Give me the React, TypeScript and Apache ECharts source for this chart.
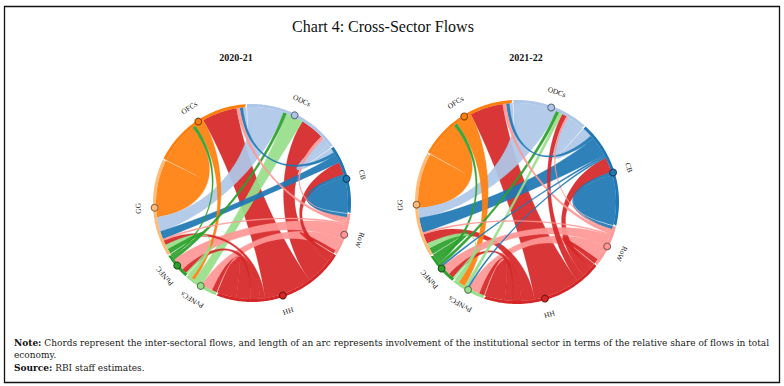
import React, { useEffect, useRef } from 'react';
import * as echarts from 'echarts';

// ---------- data ----------
const SECTORS = ['ODCs', 'CB', 'RoW', 'HH', 'PvNFCs', 'PuNFC', 'GG', 'OFCs'];
const SECTOR_COLORS = ['#aec7e8', '#1f77b4', '#ff9896', '#d62728', '#98df8a', '#2ca02c', '#ffbb78', '#ff7f0e'];

// 2020-21 : flow from sector, to sector, share of arc at each end
const FROM_2020 = ['ODCs', 'ODCs', 'PuNFC', 'PvNFCs', 'HH', 'RoW', 'ODCs', 'ODCs', 'CB', 'CB', 'HH', 'CB', 'CB', 'RoW', 'RoW', 'RoW', 'RoW', 'HH', 'HH', 'HH', 'HH', 'HH', 'HH', 'OFCs', 'PvNFCs', 'PvNFCs', 'PuNFC', 'PuNFC', 'OFCs'];
const TO_2020 = ['OFCs', 'GG', 'ODCs', 'ODCs', 'ODCs', 'ODCs', 'CB', 'ODCs', 'OFCs', 'GG', 'CB', 'RoW', 'CB', 'OFCs', 'GG', 'PuNFC', 'PvNFCs', 'RoW', 'OFCs', 'GG', 'PuNFC', 'PvNFCs', 'HH', 'PvNFCs', 'GG', 'PuNFC', 'OFCs', 'GG', 'GG'];
const SHARE_FROM_2020 = [3, 20, 2, 6, 16, 2, 5, 2, 2, 5, 4, 2, 22, 2, 1, 9, 8, 2, 30, 3, 6, 9, 12, 6, 2, 1, 1, 1, 26];
const SHARE_TO_2020 = [2, 9, 2, 11, 15, 2, 3, 2, 2, 5, 8, 2, 22, 2, 1, 8, 7, 2, 22, 3, 3, 3, 12, 2, 3, 1, 2, 3, 36];

// 2021-22
const FROM_2021 = ['ODCs', 'ODCs', 'PuNFC', 'PvNFCs', 'HH', 'RoW', 'ODCs', 'ODCs', 'CB', 'CB', 'CB', 'CB', 'HH', 'CB', 'CB', 'RoW', 'RoW', 'RoW', 'RoW', 'HH', 'HH', 'HH', 'HH', 'HH', 'HH', 'OFCs', 'PvNFCs', 'PvNFCs', 'PuNFC', 'PuNFC', 'OFCs'];
const TO_2021 = ['OFCs', 'GG', 'ODCs', 'ODCs', 'ODCs', 'ODCs', 'CB', 'ODCs', 'OFCs', 'GG', 'PuNFC', 'PvNFCs', 'CB', 'RoW', 'CB', 'OFCs', 'GG', 'PuNFC', 'PvNFCs', 'RoW', 'OFCs', 'GG', 'PuNFC', 'PvNFCs', 'HH', 'PvNFCs', 'GG', 'PuNFC', 'OFCs', 'GG', 'GG'];
const SHARE_FROM_2021 = [2, 24, 2, 2, 5, 1, 9, 2, 2, 12, 1, 1, 6, 2, 30, 2, 1, 7, 9, 3, 28, 8, 5, 5, 12, 10, 2, 1, 2, 4, 22];
const SHARE_TO_2021 = [2, 6, 2, 2, 3, 1, 6, 2, 2, 9, 1, 1, 9, 2, 30, 2, 1, 6, 7, 3, 20, 6, 3, 3, 12, 4, 3, 1, 2, 4, 33];

const YEARS = ['2020-21', '2021-22'];
const TITLE = 'Chart 4: Cross-Sector Flows';
const NOTE_LINE1 = 'Chords represent the inter-sectoral flows, and length of an arc represents involvement of the institutional sector in terms of the relative share of flows in total';
const NOTE_LINE2 = 'economy.';
const SOURCE = 'RBI staff estimates.';

// ---------- layout helpers ----------
const DEG = Math.PI / 180;
const SERIF = '"Liberation Serif", "Times New Roman", serif';
const NOTE_FONT = '"DejaVu Serif", serif';
const NOTE_SIZE = 9.0;

type Geo = { cx: number; cy: number; r: number; rOut: number; start: number; pad: number };

function buildChord(from: string[], to: string[], sf: number[], st: number[], geo: Geo) {
  const n = SECTORS.length;
  const idx = (s: string) => SECTORS.indexOf(s);
  const sub: number[][] = Array.from({ length: n }, () => new Array(n).fill(0));
  from.forEach((f, k) => {
    const i = idx(f);
    const j = idx(to[k]);
    if (i === j) sub[i][i] += sf[k];
    else {
      sub[i][j] += sf[k];
      sub[j][i] += st[k];
    }
  });
  const totals = sub.map((row) => row.reduce((a, b) => a + b, 0));
  const grand = totals.reduce((a, b) => a + b, 0);
  const scale = (2 * Math.PI - n * geo.pad * DEG) / grand;
  const arcs: number[][][] = Array.from({ length: n }, () => new Array(n).fill(null));
  const groups: { a0: number; a1: number }[] = [];
  let a = geo.start * DEG;
  for (let i = 0; i < n; i++) {
    const g0 = a;
    const order: number[] = [];
    for (let s = 1; s < n; s++) order.push((i - s + n) % n);
    order.push(i);
    order.forEach((j) => {
      const w = sub[i][j] * scale;
      arcs[i][j] = [a, a + w];
      a += w;
    });
    groups.push({ a0: g0, a1: a });
    a += geo.pad * DEG;
  }

  const P = (t: number, rad: number) => [geo.cx + rad * Math.sin(t), geo.cy - rad * Math.cos(t)];
  const K = 0.45;
  const f2 = (v: number) => v.toFixed(2);
  const arcPts = (rad: number, t0: number, t1: number) => {
    const steps = Math.max(2, Math.ceil(Math.abs(t1 - t0) / (0.8 * DEG)));
    let s = '';
    for (let q = 1; q <= steps; q++) {
      const p = P(t0 + ((t1 - t0) * q) / steps, rad);
      s += ` L ${f2(p[0])} ${f2(p[1])}`;
    }
    return s;
  };
  const curve = (t0: number, t1: number) => {
    const c1 = P(t0, geo.r * K);
    const c2 = P(t1, geo.r * K);
    const e = P(t1, geo.r);
    return ` C ${f2(c1[0])} ${f2(c1[1])} ${f2(c2[0])} ${f2(c2[1])} ${f2(e[0])} ${f2(e[1])}`;
  };

  const ribbons: { d: string; color: string; size: number }[] = [];
  from.forEach((f, k) => {
    const i = idx(f);
    const j = idx(to[k]);
    const A = arcs[i][j];
    const p0 = P(A[0], geo.r);
    let d = `M ${f2(p0[0])} ${f2(p0[1])}` + arcPts(geo.r, A[0], A[1]);
    if (i === j) {
      d += curve(A[1], A[0]) + ' Z';
    } else {
      const B = arcs[j][i];
      d += curve(A[1], B[0]) + arcPts(geo.r, B[0], B[1]) + curve(B[1], A[0]) + ' Z';
    }
    ribbons.push({ d, color: SECTOR_COLORS[i], size: sf[k] + st[k] });
  });
  ribbons.sort((x, y) => y.size - x.size);

  const groupEls = groups.map((g, i) => {
    const o0 = P(g.a0, geo.rOut);
    let d = `M ${f2(o0[0])} ${f2(o0[1])}` + arcPts(geo.rOut, g.a0, g.a1);
    d += arcPts(geo.r, g.a1, g.a0) + ' Z';
    const mid = (g.a0 + g.a1) / 2;
    const m = P(mid, geo.rOut - 1.5);
    const l = P(mid, geo.rOut + 15);
    return { d, color: SECTOR_COLORS[i], name: SECTORS[i], mx: m[0], my: m[1], lx: l[0], ly: l[1], rot: -mid };
  });
  return { ribbons, groupEls };
}

const GEOS: Geo[] = [
  { cx: 252, cy: 203, r: 96, rOut: 99, start: -3, pad: 0.5 },
  { cx: 517, cy: 202, r: 99, rOut: 102, start: -2, pad: 0.5 },
];

function darken(hex: string) {
  const v = parseInt(hex.slice(1), 16);
  const r = Math.round(((v >> 16) & 255) * 0.55);
  const g = Math.round(((v >> 8) & 255) * 0.55);
  const b = Math.round((v & 255) * 0.55);
  return `rgb(${r},${g},${b})`;
}

function chordSeries(data: ReturnType<typeof buildChord>) {
  return [
    {
      type: 'custom',
      coordinateSystem: 'none',
      silent: true,
      data: data.ribbons.map((_, i) => [i]),
      renderItem: (params: any) => {
        const rb = data.ribbons[params.dataIndex];
        return {
          type: 'path',
          shape: { pathData: rb.d },
          style: { fill: rb.color, opacity: 0.93, stroke: rb.color, lineWidth: 0.3 },
        };
      },
    },
    {
      type: 'custom',
      coordinateSystem: 'none',
      silent: true,
      data: data.groupEls.map((_, i) => [i]),
      renderItem: (params: any) => {
        const g = data.groupEls[params.dataIndex];
        return {
          type: 'group',
          children: [
            { type: 'path', shape: { pathData: g.d }, style: { fill: g.color } },
            {
              type: 'circle',
              shape: { cx: g.mx, cy: g.my, r: 3.4 },
              style: { fill: g.color, stroke: darken(g.color), lineWidth: 1.1 },
            },
            {
              type: 'text',
              x: g.lx,
              y: g.ly,
              rotation: g.rot,
              style: {
                text: g.name,
                fill: '#222',
                fontSize: 7.5,
                fontFamily: SERIF,
                align: 'center',
                verticalAlign: 'middle',
              },
            },
          ],
        };
      },
    },
  ];
}

export default function App() {
  const ref = useRef<HTMLDivElement>(null);
  useEffect(() => {
    if (!ref.current) return;
    const chart = echarts.init(ref.current, null, { renderer: 'svg' });
    const c2020 = buildChord(FROM_2020, TO_2020, SHARE_FROM_2020, SHARE_TO_2020, GEOS[0]);
    const c2021 = buildChord(FROM_2021, TO_2021, SHARE_FROM_2021, SHARE_TO_2021, GEOS[1]);
    chart.setOption({
      animation: false,
      backgroundColor: '#ffffff',
      graphic: [
        {
          type: 'rect',
          shape: { x: 4.5, y: 6.5, width: 775, height: 376 },
          style: { fill: 'none', stroke: '#111', lineWidth: 1.3 },
        },
        {
          type: 'text',
          x: 383,
          y: 26,
          style: { text: TITLE, fontSize: 16, fontFamily: SERIF, fill: '#111', align: 'center', verticalAlign: 'middle' },
        },
        {
          type: 'text',
          x: 236,
          y: 57,
          style: { text: YEARS[0], fontSize: 10, fontWeight: 'bold', fontFamily: SERIF, fill: '#111', align: 'center', verticalAlign: 'middle' },
        },
        {
          type: 'text',
          x: 526,
          y: 57,
          style: { text: YEARS[1], fontSize: 10, fontWeight: 'bold', fontFamily: SERIF, fill: '#111', align: 'center', verticalAlign: 'middle' },
        },
        {
          type: 'text',
          x: 14,
          y: 343,
          style: {
            text: `{b|Note:} ${NOTE_LINE1}`,
            fontSize: NOTE_SIZE,
            fontFamily: NOTE_FONT,
            fill: '#222',
            verticalAlign: 'middle',
            rich: { b: { fontWeight: 'bold', fontSize: NOTE_SIZE, fontFamily: NOTE_FONT, fill: '#111' } },
          },
        },
        {
          type: 'text',
          x: 14,
          y: 355,
          style: { text: NOTE_LINE2, fontSize: NOTE_SIZE, fontFamily: NOTE_FONT, fill: '#222', verticalAlign: 'middle' },
        },
        {
          type: 'text',
          x: 14,
          y: 368,
          style: {
            text: `{b|Source:} ${SOURCE}`,
            fontSize: NOTE_SIZE,
            fontFamily: NOTE_FONT,
            fill: '#222',
            verticalAlign: 'middle',
            rich: { b: { fontWeight: 'bold', fontSize: NOTE_SIZE, fontFamily: NOTE_FONT, fill: '#111' } },
          },
        },
      ],
      series: [...chordSeries(c2020), ...chordSeries(c2021)],
    });
    return () => chart.dispose();
  }, []);
  return <div ref={ref} style={{ position: 'absolute', left: 0, top: 0, width: 784, height: 386 }} />;
}
